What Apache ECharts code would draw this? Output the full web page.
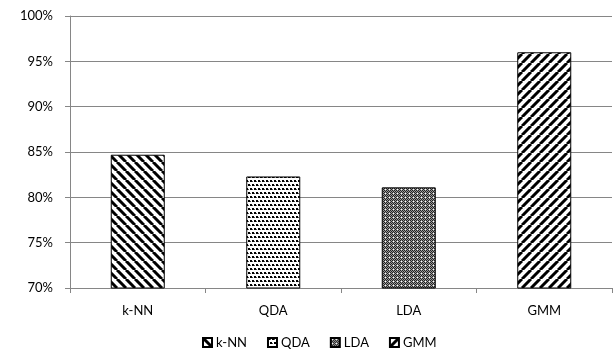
<!DOCTYPE html>
<html>
<head>
<meta charset="utf-8">
<script src="https://cdn.jsdelivr.net/npm/echarts@6/dist/echarts.min.js"></script>
<style>
  html, body { margin: 0; padding: 0; background: #fff; }
  #chart { width: 615px; height: 356px; }
</style>
</head>
<body>
<div id="chart"></div>
<script>
// Classifier accuracy (%)
const categories = ['k-NN', 'QDA', 'LDA', 'GMM'];
const seriesNames = ['k-NN', 'QDA', 'LDA', 'GMM'];
const accuracy = [84.7, 82.3, 81.1, 96.0];
const yTicks = { min: 70, max: 100, step: 5 };

// Hatch fill tiles drawn onto small canvases
function tile(size, draw) {
  const c = document.createElement('canvas');
  c.width = size; c.height = size;
  const ctx = c.getContext('2d');
  ctx.fillStyle = '#fff';
  ctx.fillRect(0, 0, size, size);
  draw(ctx, size);
  return c;
}
function stripes(dir) {
  return tile(9, (ctx, s) => {
    ctx.strokeStyle = '#000';
    ctx.lineWidth = 3;
    ctx.beginPath();
    for (let k = -1; k <= 1; k++) {
      if (dir > 0) { // "/" direction
        ctx.moveTo(k * s, s); ctx.lineTo(k * s + s, 0);
      } else {       // "\" direction
        ctx.moveTo(k * s, 0); ctx.lineTo(k * s + s, s);
      }
    }
    ctx.stroke();
  });
}
const dotted = tile(8, (ctx) => {
  ctx.fillStyle = '#000';
  ctx.fillRect(0, 0, 2, 2);
  ctx.fillRect(4, 0, 2, 2);
  ctx.fillRect(2, 4, 2, 2);
  ctx.fillRect(6, 4, 2, 2);
  ctx.fillStyle = '#555';
  ctx.fillRect(2, 1, 1, 1);
  ctx.fillRect(6, 1, 1, 1);
  ctx.fillRect(0, 5, 1, 1);
  ctx.fillRect(4, 5, 1, 1);
});
const checker = tile(4, (ctx) => {
  for (let y = 0; y < 4; y++)
    for (let x = 0; x < 4; x++) {
      ctx.fillStyle = (x + y) % 2 === 0 ? '#222' : '#9a9a9a';
      ctx.fillRect(x, y, 1, 1);
    }
  ctx.fillStyle = '#fff';
  ctx.fillRect(1, 1, 1, 1);
});
const fills = [stripes(-1), dotted, checker, stripes(1)];

const series = seriesNames.map((name, i) => ({
  name: name,
  type: 'bar',
  stack: 'one',
  barWidth: 54,
  data: categories.map((c, j) => (j === i ? accuracy[i] : '-')),
  itemStyle: {
    color: { image: fills[i], repeat: 'repeat' },
    borderColor: '#000',
    borderWidth: 1
  },
  emphasis: { disabled: true }
}));

const chart = echarts.init(document.getElementById('chart'), null, { renderer: 'canvas' });
chart.setOption({
  animation: false,
  textStyle: { fontFamily: 'Lato' },
  grid: { left: 70, right: 3, top: 16, bottom: 68, containLabel: false },
  legend: {
    data: seriesNames,
    top: 336,
    left: 202,
    padding: 0,
    icon: 'rect',
    itemWidth: 9,
    itemHeight: 9,
    itemGap: 20,
    textStyle: { fontSize: 13, color: '#000', fontFamily: 'Lato', padding: [0, 0, 0, -1] }
  },
  xAxis: {
    type: 'category',
    data: categories,
    boundaryGap: true,
    axisLine: { lineStyle: { color: '#868686', width: 1 } },
    axisTick: { show: true, length: 5, lineStyle: { color: '#868686' } },
    axisLabel: { color: '#000', fontSize: 13, margin: 16, fontFamily: 'Lato' },
    splitLine: { show: false }
  },
  yAxis: {
    type: 'value',
    min: yTicks.min,
    max: yTicks.max,
    interval: yTicks.step,
    axisLine: { show: true, lineStyle: { color: '#868686', width: 1 } },
    axisTick: { show: true, length: 5, lineStyle: { color: '#868686' } },
    axisLabel: { formatter: '{value}%', color: '#000', fontSize: 13, margin: 17, fontFamily: 'Lato' },
    splitLine: { lineStyle: { color: '#868686', width: 1 } }
  },
  series: series
});
</script>
</body>
</html>
